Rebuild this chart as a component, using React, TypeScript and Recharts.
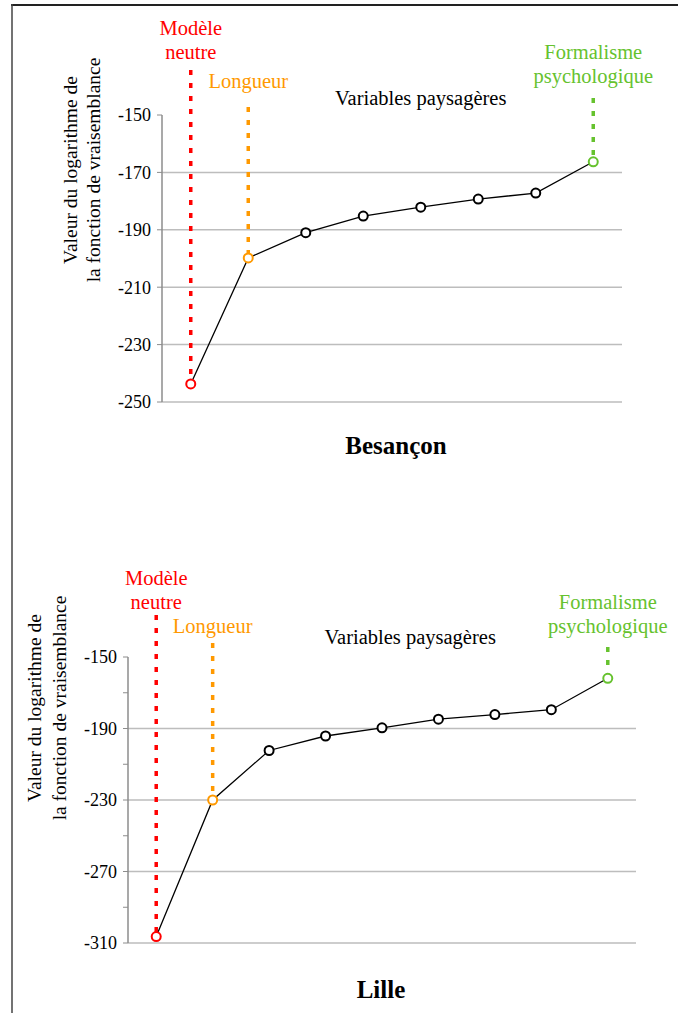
import React from 'react';
import { LineChart, Line, XAxis, YAxis, ReferenceLine, ReferenceDot } from 'recharts';

// Besançon panel
const besanconCategories = [
  'Modèle neutre', 'Longueur', 'Variable 1', 'Variable 2', 'Variable 3',
  'Variable 4', 'Variable 5', 'Formalisme psychologique',
];
const besanconValues = [-243.7, -199.8, -191.0, -185.2, -182.1, -179.3, -177.2, -166.3];
const besanconTicks = [-250, -230, -210, -190, -170, -150];
const besanconLabelTicks = [-250, -230, -210, -190, -170, -150];
const besanconMarkerTops = [-134.3, -147.2, -144.1]; // neutre, longueur, formalisme

// Lille panel
const lilleCategories = [
  'Modèle neutre', 'Longueur', 'Variable 1', 'Variable 2', 'Variable 3',
  'Variable 4', 'Variable 5', 'Variable 6', 'Formalisme psychologique',
];
const lilleValues = [-306.4, -230.0, -202.3, -194.2, -189.6, -184.8, -182.2, -179.5, -161.9];
const lilleTicks = [-310, -290, -270, -250, -230, -210, -190, -170, -150];
const lilleLabelTicks = [-310, -270, -230, -190, -150];
const lilleMarkerTops = [-126.5, -142.2, -144.4];

const yLabelLines = ['Valeur du logarithme de', 'la fonction de vraisemblance'];
const variablesLabel = 'Variables paysagères';

const FONT = "'Liberation Serif', serif";
const RED = '#ff0000';
const ORANGE = '#ff9900';
const GREEN = '#66c22e';
const GRID = '#bdbdbd';
const AXIS = '#8c8c8c';

const markerStyles = [
  { color: RED, lines: ['Modèle', 'neutre'] },
  { color: ORANGE, lines: ['Longueur'] },
  { color: GREEN, lines: ['Formalisme', 'psychologique'] },
];

function StackLabel({ viewBox, lines, color, gap }: any) {
  const x = viewBox.x + (viewBox.width || 0) / 2;
  const y = viewBox.y;
  return (
    <text textAnchor="middle" fill={color} style={{ fontSize: 20.5, fontFamily: FONT }}>
      {lines.map((l: string, i: number) => (
        <tspan key={i} x={x} y={y - gap - (lines.length - 1 - i) * 24}>{l}</tspan>
      ))}
    </text>
  );
}

interface PanelProps {
  categories: string[];
  values: number[];
  ticks: number[];
  labelTicks: number[];
  markerTops: number[];
  width: number;
  height: number;
  margin: { top: number; right: number; bottom: number; left: number };
  yAxisWidth: number;
  gaps: number[];
  varGap: number;
}

function Panel(p: PanelProps) {
  const n = p.categories.length;
  const data = p.values.map((v, i) => ({ pos: i + 0.5, name: p.categories[i], value: v }));
  const boundaries = Array.from({ length: n + 1 }, (_, i) => i);
  const yMin = p.ticks[0];
  const yMax = p.ticks[p.ticks.length - 1];
  const markerIdx = [0, 1, n - 1];
  const dotColor = (i: number) => (i === 0 ? RED : i === 1 ? ORANGE : i === n - 1 ? GREEN : '#000');

  return (
    <LineChart width={p.width} height={p.height} data={data} margin={p.margin} style={{ fontFamily: FONT }}>
      <XAxis
        type="number"
        dataKey="pos"
        domain={[0, n]}
        ticks={boundaries}
        orientation="top"
        height={0}
        mirror
        tick={false}
        tickSize={5}
        axisLine={{ stroke: AXIS, strokeWidth: 1.5 }}
        tickLine={{ stroke: AXIS }}
      />
      <YAxis
        type="number"
        domain={[yMin, yMax]}
        ticks={p.ticks}
        width={p.yAxisWidth}
        tickSize={5}
        tickMargin={6}
        tickFormatter={(v: number) => (p.labelTicks.includes(v) ? String(v) : '')}
        tick={{ fill: '#000', fontSize: 18, fontFamily: FONT, style: { fontFamily: FONT } }}
        axisLine={{ stroke: AXIS, strokeWidth: 1.5 }}
        tickLine={{ stroke: AXIS }}
      />
      {p.labelTicks.filter((t) => t !== yMax).map((t) => (
        <ReferenceLine key={t} y={t} stroke={GRID} strokeWidth={1.5} />
      ))}
      {markerIdx.map((idx, k) => (
        <ReferenceLine
          key={'m' + k}
          segment={[
            { x: data[idx].pos, y: p.markerTops[k] },
            { x: data[idx].pos, y: data[idx].value },
          ]}
          ifOverflow="visible"
          stroke={markerStyles[k].color}
          strokeWidth={3.5}
          strokeDasharray="5 8"
          label={(lp: any) => (
            <StackLabel
              viewBox={lp.viewBox}
              lines={markerStyles[k].lines}
              color={markerStyles[k].color}
              gap={p.gaps[k]}
            />
          )}
        />
      ))}
      <ReferenceDot
        x={n / 2 + 0.5}
        y={yMax}
        r={1}
        fill="none"
        stroke="none"
        ifOverflow="visible"
        label={(lp: any) => (
          <StackLabel viewBox={lp.viewBox} lines={[variablesLabel]} color="#000" gap={p.varGap} />
        )}
      />
      <Line
        type="linear"
        dataKey="value"
        stroke="#000"
        strokeWidth={1.3}
        isAnimationActive={false}
        dot={(dp: any) => (
          <circle
            key={dp.index}
            cx={dp.cx}
            cy={dp.cy}
            r={4.5}
            fill="#fff"
            stroke={dotColor(dp.index)}
            strokeWidth={2}
          />
        )}
        activeDot={false}
      />
    </LineChart>
  );
}

function YLabel({ x1, x2, cy }: { x1: number; x2: number; cy: number }) {
  return (
    <g fill="#000" style={{ fontFamily: FONT, fontSize: 19.5 }}>
      <text transform={`translate(${x1},${cy}) rotate(-90)`} textAnchor="middle" dy={6}>{yLabelLines[0]}</text>
      <text transform={`translate(${x2},${cy}) rotate(-90)`} textAnchor="middle" dy={6}>{yLabelLines[1]}</text>
    </g>
  );
}

export default function App() {
  return (
    <div style={{ position: 'absolute', left: 0, top: 0, width: 678, height: 1013, background: '#fff', overflow: 'hidden', fontFamily: FONT }}>
      <div style={{ position: 'absolute', left: 0, top: 0 }}>
        <Panel
          categories={besanconCategories}
          values={besanconValues}
          ticks={besanconTicks}
          labelTicks={besanconLabelTicks}
          markerTops={besanconMarkerTops}
          width={678}
          height={470}
          margin={{ top: 115, right: 56, bottom: 68, left: 0 }}
          yAxisWidth={162}
          gaps={[11, 19, 15]}
          varGap={9}
        />
      </div>
      <div style={{ position: 'absolute', left: 0, top: 540 }}>
        <Panel
          categories={lilleCategories}
          values={lilleValues}
          ticks={lilleTicks}
          labelTicks={lilleLabelTicks}
          markerTops={lilleMarkerTops}
          width={678}
          height={473}
          margin={{ top: 117, right: 42, bottom: 70, left: 0 }}
          yAxisWidth={128}
          gaps={[6, 10, 14]}
          varGap={12}
        />
      </div>
      <svg width={678} height={1013} style={{ position: 'absolute', left: 0, top: 0, pointerEvents: 'none', fontFamily: FONT }}>
        <line x1={11} y1={5} x2={678} y2={5} stroke="#222" strokeWidth={2} />
        <line x1={12} y1={4} x2={12} y2={1013} stroke="#444" strokeWidth={1.5} />
        <YLabel x1={71} x2={94} cy={170} />
        <YLabel x1={35} x2={60} cy={708} />
        <text x={396} y={454} textAnchor="middle" style={{ fontFamily: FONT, fontSize: 25, fontWeight: 'bold' }}>Besançon</text>
        <text x={381} y={998} textAnchor="middle" style={{ fontFamily: FONT, fontSize: 25, fontWeight: 'bold' }}>Lille</text>
      </svg>
    </div>
  );
}
